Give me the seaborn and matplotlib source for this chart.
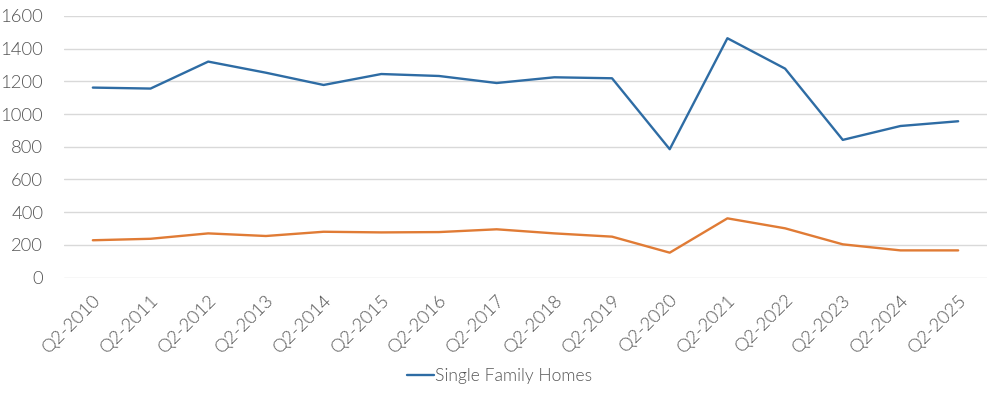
import numpy as np
import pandas as pd
import matplotlib
matplotlib.use('Agg')
import matplotlib.pyplot as plt
import seaborn as sns

# ==========================================================
# DATA
# ==========================================================

quarters = ["Q2-2010", "Q2-2011", "Q2-2012", "Q2-2013", "Q2-2014", "Q2-2015",
            "Q2-2016", "Q2-2017", "Q2-2018", "Q2-2019", "Q2-2020", "Q2-2021",
            "Q2-2022", "Q2-2023", "Q2-2024", "Q2-2025"]

single_family = [1162, 1156, 1321, 1253, 1178, 1245, 1233, 1190,
                 1225, 1219, 785, 1464, 1278, 842, 927, 956]

other_homes = [228, 237, 270, 254, 280, 276, 278, 295,
               270, 250, 152, 362, 301, 203, 166, 166]

y_ticks = [0, 200, 400, 600, 800, 1000, 1200, 1400, 1600]

BLUE = "#2E6CA4"
ORANGE = "#E07B35"
TEXT = "#555555"
GRID = "#D9D9D9"

# ==========================================================
# PLOT
# ==========================================================

sns.set_theme(style="white")
plt.rcParams['font.family'] = ['Lato', 'DejaVu Sans']
plt.rcParams['font.weight'] = 300

df = pd.DataFrame({
    "quarter": quarters,
    "pos": np.arange(len(quarters)),
    "single": single_family,
    "other": other_homes,
})

fig = plt.figure(figsize=(10, 3.96), dpi=100)
ax = fig.add_axes([0.064, 0.2992, 0.923, 0.6604])

sns.lineplot(data=df, x="pos", y="single", ax=ax, color=BLUE, linewidth=1.7,
             label="Single Family Homes")
sns.lineplot(data=df, x="pos", y="other", ax=ax, color=ORANGE, linewidth=1.7,
             legend=False)

ax.set_xlim(-0.5, len(quarters) - 0.5)
ax.set_ylim(0, 1600)
ax.set_yticks(y_ticks)
ax.set_yticklabels([str(v) for v in y_ticks])
ax.set_xticks(df["pos"])
ax.set_xticklabels(quarters, rotation=45, ha='right', rotation_mode='anchor')

ax.yaxis.grid(True, color=GRID, linewidth=1)
ax.xaxis.grid(False)
ax.set_axisbelow(True)
for s in ax.spines.values():
    s.set_visible(False)

ax.tick_params(axis='both', length=0, labelsize=13.3, labelcolor=TEXT)
ax.tick_params(axis='y', pad=15)
ax.tick_params(axis='x', pad=10)
ax.set_xlabel("")
ax.set_ylabel("")

leg = ax.legend(loc='center', bbox_to_anchor=(0.5, 0.05), bbox_transform=fig.transFigure,
                frameon=False, fontsize=12.6, handlelength=1.5, handletextpad=0.1)
for t in leg.get_texts():
    t.set_color(TEXT)

fig.savefig("out.png", dpi=100)
